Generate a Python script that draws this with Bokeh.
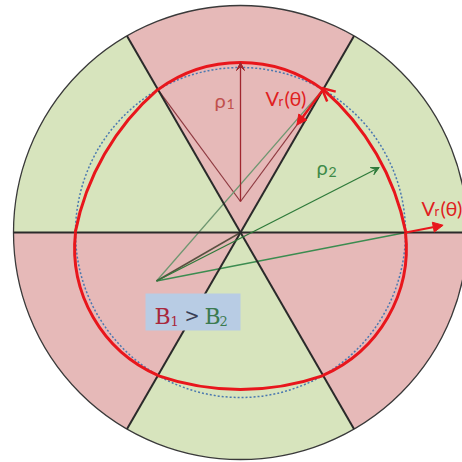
import math
from bokeh.plotting import figure
from bokeh.models import Range1d, Arrow, NormalHead, VeeHead, OpenHead
from bokeh.core.properties import value
from bokeh.embed import file_html
from bokeh.resources import INLINE

# ---------------- data ----------------
SECTOR_START_DEG = [0, 60, 120, 180, 240, 300]
SECTOR_END_DEG = [60, 120, 180, 240, 300, 360]
SECTOR_KIND = ["valley", "hill", "valley", "hill", "valley", "hill"]
FIELD_COLORS = {"hill": "#E6B9B8", "valley": "#D7E4BD"}
BOUNDARY_DEG = [0, 60, 120]
R_OUTER = 227          # outer edge of the pole pieces
R_REF = 165            # reference (dotted) circle
RHO1, D1 = 139, 31     # hill: radius of curvature, centre offset
RHO2, D2 = 254, 97     # valley: radius of curvature, centre offset
RHO2_ARROW_DEG = 27
VR_TOP_LEN = 44
VR_RIGHT_LEN = 38

# ---------------- figure ----------------
p = figure(width=462, height=462, x_range=Range1d(-240, 222), y_range=Range1d(-230, 232),
           output_backend="svg", toolbar_location=None, min_border=0)
p.axis.visible = False
p.grid.visible = False
p.outline_line_color = None
p.background_fill_color = "white"
p.border_fill_color = "white"

# sectors
p.wedge(x=[0] * 6, y=[0] * 6, radius=R_OUTER,
        start_angle=[math.radians(a) for a in SECTOR_START_DEG],
        end_angle=[math.radians(a) for a in SECTOR_END_DEG],
        fill_color=[FIELD_COLORS[k] for k in SECTOR_KIND], line_color=None)
p.circle(x=[0], y=[0], radius=R_OUTER, fill_color=None, line_color="#3a3a3a", line_width=1.3)

# reference dotted circle
p.circle(x=[0], y=[0], radius=R_REF, fill_color=None, line_color="#4A78B0",
         line_width=1.5, line_dash="2 2")


def ray_hit(c, rho, ang):
    ux, uy = math.cos(ang), math.sin(ang)
    uc = ux * c[0] + uy * c[1]
    r = uc + math.sqrt(uc * uc - (c[0] ** 2 + c[1] ** 2) + rho * rho)
    return (r * ux, r * uy)


arcs = []
for s, e, kind in zip(SECTOR_START_DEG, SECTOR_END_DEG, SECTOR_KIND):
    m = math.radians((s + e) / 2)
    if kind == "hill":
        c, rho = (D1 * math.cos(m), D1 * math.sin(m)), RHO1
    else:
        c, rho = (-D2 * math.cos(m), -D2 * math.sin(m)), RHO2
    ps = ray_hit(c, rho, math.radians(s))
    pe = ray_hit(c, rho, math.radians(e))
    arcs.append(dict(c=c, rho=rho, ps=ps, pe=pe,
                     a_s=math.atan2(ps[1] - c[1], ps[0] - c[0]),
                     a_e=math.atan2(pe[1] - c[1], pe[0] - c[0])))

HC = arcs[1]["c"]          # centre of top hill arc
VC = arcs[0]["c"]          # centre of upper-right valley arc
P_v0 = arcs[0]["ps"]
P_v60 = arcs[0]["pe"]
P_h60 = arcs[1]["ps"]
P_h120 = arcs[1]["pe"]

# construction lines
p.segment(x0=[HC[0], HC[0]], y0=[HC[1], HC[1]], x1=[P_h120[0], P_h60[0]], y1=[P_h120[1], P_h60[1]],
          line_color="#8E3A40", line_width=1.2)
p.segment(x0=[VC[0]], y0=[VC[1]], x1=[P_v60[0]], y1=[P_v60[1]], line_color="#6E9670", line_width=1.3)
p.segment(x0=[VC[0]], y0=[VC[1]], x1=[P_v0[0]], y1=[P_v0[1]], line_color="#3C8C50", line_width=1.3)
p.segment(x0=[VC[0]], y0=[VC[1]], x1=[0], y1=[0], line_color="#5A5040", line_width=1.5)

# sector boundary lines
bx0, by0, bx1, by1 = [], [], [], []
for a in BOUNDARY_DEG:
    r = math.radians(a)
    bx0.append(-R_OUTER * math.cos(r)); by0.append(-R_OUTER * math.sin(r))
    bx1.append(R_OUTER * math.cos(r)); by1.append(R_OUTER * math.sin(r))
p.segment(x0=bx0, y0=by0, x1=bx1, y1=by1, line_color="#2a2a2a", line_width=2)

# rho arrows
p.add_layout(Arrow(end=VeeHead(size=8, line_color="#A0262E", fill_color="#A0262E", line_width=1),
                   x_start=HC[0], y_start=HC[1], x_end=HC[0], y_end=HC[1] + RHO1,
                   line_color="#A0262E", line_width=1.3))
ra = math.radians(RHO2_ARROW_DEG)
p.add_layout(Arrow(end=VeeHead(size=8, line_color="#2E7A3A", fill_color="#2E7A3A", line_width=1),
                   x_start=VC[0], y_start=VC[1],
                   x_end=VC[0] + (RHO2 - 4) * math.cos(ra), y_end=VC[1] + (RHO2 - 4) * math.sin(ra),
                   line_color="#2E7A3A", line_width=1.3))

# orbit
p.arc(x=[a["c"][0] for a in arcs], y=[a["c"][1] for a in arcs], radius=[a["rho"] for a in arcs],
      start_angle=[a["a_s"] for a in arcs], end_angle=[a["a_e"] for a in arcs],
      line_color="#E8161C", line_width=3)

# Vr arrows
dx, dy = HC[0] - P_h60[0], HC[1] - P_h60[1]
L = math.hypot(dx, dy)
p.add_layout(Arrow(end=NormalHead(size=10, fill_color="#E8161C", line_color="#E8161C"),
                   x_start=P_h60[0], y_start=P_h60[1],
                   x_end=P_h60[0] + VR_TOP_LEN * dx / L, y_end=P_h60[1] + VR_TOP_LEN * dy / L,
                   line_color="#E8161C", line_width=2.5))
dx, dy = P_v0[0] - VC[0], P_v0[1] - VC[1]
L = math.hypot(dx, dy)
p.add_layout(Arrow(end=NormalHead(size=10, fill_color="#E8161C", line_color="#E8161C"),
                   x_start=P_v0[0], y_start=P_v0[1],
                   x_end=P_v0[0] + VR_RIGHT_LEN * dx / L, y_end=P_v0[1] + VR_RIGHT_LEN * dy / L,
                   line_color="#E8161C", line_width=2))
# orbit direction arrowhead (counter-clockwise tangent)
rx, ry = P_v60[0] - VC[0], P_v60[1] - VC[1]
L = math.hypot(rx, ry)
tx, ty = -ry / L, rx / L
p.add_layout(Arrow(end=OpenHead(size=13, line_color="#E8161C", line_width=2.5),
                   x_start=P_v60[0] - 6 * tx, y_start=P_v60[1] - 6 * ty,
                   x_end=P_v60[0] + 2 * tx, y_end=P_v60[1] + 2 * ty,
                   line_alpha=0))

# ---------------- labels ----------------
def txt(x, y, s, size, color, font="Lato"):
    # picture px -> data coordinates
    p.text(x=[x - 240], y=[232 - y], text=[s], text_font=value(font), text_font_size=size,
           text_color=color, text_baseline="alphabetic", text_align="left")

txt(214, 99, "ρ", "20px", "#C0504D")
txt(226, 103, "1", "14px", "#C0504D")
txt(316, 166, "ρ", "20px", "#3E8A48")
txt(328, 171, "2", "14px", "#3E8A48")

txt(265, 97, "V", "20px", "#E0201E")
txt(278, 100, "r", "13px", "#E0201E")
txt(284, 97, "(θ)", "20px", "#E0201E")

txt(421, 207, "V", "20px", "#E0201E")
txt(434, 210, "r", "13px", "#E0201E")
txt(440, 207, "(θ)", "20px", "#E0201E")

# B1 > B2 box
p.rect(x=[(145 + 240) / 2 - 240], y=[232 - (293 + 330) / 2], width=95, height=37,
       fill_color="#B8CCE4", line_color=None)
txt(154, 316, "B", "22px", "#A8283C", "DejaVu Serif")
txt(170, 320, "1", "13px", "#A8283C", "DejaVu Serif")
txt(184, 315, ">", "18px", "#3A3F55", "DejaVu Serif")
txt(204, 316, "B", "22px", "#3C7A50", "DejaVu Serif")
txt(219, 320, "2", "13px", "#3C7A50", "DejaVu Serif")

open("out.html", "w").write(file_html(p, INLINE))
